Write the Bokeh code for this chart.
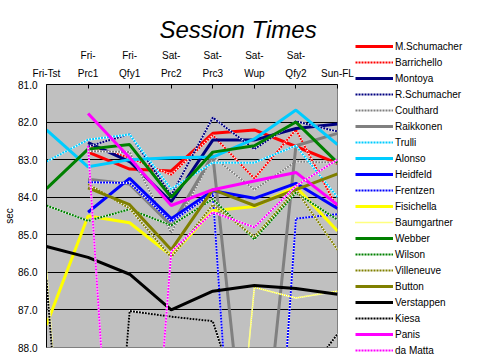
from bokeh.plotting import figure
from bokeh.models import (Range1d, FixedTicker, Legend, LegendItem,
                          NumeralTickFormatter)
from bokeh.embed import file_html
from bokeh.resources import INLINE

nan = float("nan")

# ---- data (lap times in seconds; values > 88 run off the chart) ----
sessions = ["Fri-Tst", "Fri-Prc1", "Fri-Qfy1", "Sat-Prc2",
            "Sat-Prc3", "Sat-Wup", "Sat-Qfy2", "Sun-FL"]
session_labels = ["Fri-Tst", "Fri-\nPrc1", "Fri-\nQfy1", "Sat-\nPrc2",
                  "Sat-\nPrc3", "Sat-\nWup", "Sat-\nQfy2", "Sun-FL"]
y_ticks = [81, 82, 83, 84, 85, 86, 87, 88]

m_schumacher = [nan, 82.80, 83.25, 83.30, 82.30, 82.21, 82.65, 83.10]
barrichello  = [nan, 82.63, 82.95, 83.40, 82.35, 83.50, 82.20, 84.30]
montoya      = [nan, 82.55, 83.05, 84.12, 82.48, 82.48, 82.17, 82.05]
r_schumacher = [nan, 82.65, 82.32, 83.95, 81.88, 82.72, 81.98, 82.25]
coulthard    = [nan, 82.77, 82.80, 84.95, 82.92, 83.80, 83.05, 83.08]
raikkonen    = [nan, 83.52, 83.65, 84.75, 82.88, 93.20, 82.63, 82.30]
trulli       = [83.05, 82.47, 82.33, 83.78, 83.08, 83.08, 82.63, 84.00]
alonso       = [82.21, 83.19, 83.00, 82.95, 82.93, 82.45, 81.68, 82.60]
heidfeld     = [nan, 84.40, 83.50, 84.57, 83.83, 84.03, 83.63, 84.30]
frentzen     = [nan, 83.60, 83.62, 84.65, 83.90, 100.5, 84.57, 84.45]
fisichella   = [87.40, 84.50, 84.68, 85.55, 84.36, 84.25, 83.72, 84.90]
baumgartner  = [85.95, 100.0, 100.0, 100.0, 98.0, 86.40, 86.68, 86.50]
webber       = [83.77, 82.72, 82.60, 84.00, 82.80, 82.63, 82.00, 83.08]
wilson       = [84.22, 84.63, 84.32, 84.75, 84.05, 85.12, 83.88, 84.60]
villeneuve   = [nan, 83.65, 84.30, 85.60, 84.20, 85.05, 83.80, 85.40]
button       = [nan, 83.75, 84.20, 85.40, 83.80, 84.22, 83.80, 83.38]
verstappen   = [85.31, 85.60, 86.05, 87.00, 86.50, 86.35, 86.43, 86.58]
kiesa        = [86.20, 100.5, 87.03, 87.18, 87.30, 90.70, 89.10, 87.64]
panis        = [nan, 81.77, 82.95, 84.22, 83.80, 83.57, 83.34, 84.20]
da_matta     = [nan, 82.63, 99.80, 85.45, 84.40, 84.80, 83.70, 83.00]

drivers = ["M.Schumacher", "Barrichello", "Montoya", "R.Schumacher", "Coulthard",
           "Raikkonen", "Trulli", "Alonso", "Heidfeld", "Frentzen", "Fisichella",
           "Baumgartner", "Webber", "Wilson", "Villeneuve", "Button", "Verstappen",
           "Kiesa", "Panis", "da Matta"]
series = [m_schumacher, barrichello, montoya, r_schumacher, coulthard,
          raikkonen, trulli, alonso, heidfeld, frentzen, fisichella,
          baumgartner, webber, wilson, villeneuve, button, verstappen,
          kiesa, panis, da_matta]

# ---- styles ----
colors = ["#FF0000", "#FF0000", "#000080", "#000080", "#808080",
          "#808080", "#00CCFF", "#00CCFF", "#0000FF", "#0000FF", "#FFFF00",
          "#FFFF00", "#008000", "#008000", "#808000", "#808000", "#000000",
          "#000000", "#FF00FF", "#FF00FF"]
dotted = [False, True, False, True, True, False, True, False, False, True, False,
          True, False, True, True, False, False, True, False, True]

FONT = "Liberation Sans"

p = figure(frame_width=291, frame_height=263, output_backend="svg",
           toolbar_location=None,
           x_range=Range1d(0, len(sessions) - 1), y_range=Range1d(88, 81),
           x_axis_location="above",
           min_border_left=46, min_border_right=134, min_border_top=84,
           min_border_bottom=10,
           background_fill_color="#C0C0C0", border_fill_color="white",
           outline_line_color="#808080")

p.title.text = "Session Times"
p.title.align = "left"
p.title.offset = 113
p.title.text_font = FONT
p.title.text_font_style = "italic"
p.title.text_font_size = "24px"
p.title.text_color = "black"
p.title.standoff = 7

x = list(range(len(sessions)))
items = []
for name, vals, c, d in zip(drivers, series, colors, dotted):
    if d:
        w = 1.5 if name == "Baumgartner" else 2
        dash = "1 1" if name == "Baumgartner" else "2 1"
        r1 = p.line(x, vals, line_color="white", line_width=w)
        r2 = p.line(x, vals, line_color=c, line_width=w, line_dash=dash)
        items.append(LegendItem(label=name, renderers=[r1, r2]))
    else:
        r = p.line(x, vals, line_color=c, line_width=3)
        items.append(LegendItem(label=name, renderers=[r]))

# x axis (top)
xa = p.xaxis[0]
xa.ticker = FixedTicker(ticks=x)
xa.major_label_overrides = {i: lab for i, lab in enumerate(session_labels)}
xa.major_tick_in = 4
xa.major_tick_out = 0
xa.minor_tick_line_color = None
xa.major_label_text_font = FONT
xa.major_label_text_font_size = "10px"
xa.major_label_text_color = "black"
xa.major_label_text_line_height = 1.6
xa.major_label_standoff = 6
xa.axis_line_color = "black"
xa.major_tick_line_color = "black"

# y axis
ya = p.yaxis[0]
ya.ticker = FixedTicker(ticks=y_ticks)
ya.formatter = NumeralTickFormatter(format="0.0")
ya.major_tick_in = 0
ya.major_tick_out = 0
ya.minor_tick_line_color = None
ya.major_label_text_font = FONT
ya.major_label_text_font_size = "10px"
ya.major_label_text_color = "black"
ya.major_label_standoff = 9
ya.axis_line_color = "black"
ya.axis_label = "sec"
ya.axis_label_standoff = 0
ya.axis_label_text_font = FONT
ya.axis_label_text_font_size = "10px"
ya.axis_label_text_font_style = "normal"
ya.axis_label_text_color = "black"

p.xgrid.visible = False
p.ygrid[0].ticker = FixedTicker(ticks=y_ticks[1:-1])
p.ygrid.grid_line_color = "black"
p.ygrid.grid_line_width = 1

legend = Legend(items=items, location=(18, -10), padding=0, margin=0, spacing=2,
                glyph_height=14, label_height=14, glyph_width=38, label_standoff=2,
                label_text_font=FONT, label_text_font_size="10px",
                label_text_color="black",
                background_fill_alpha=0, border_line_alpha=0)
p.add_layout(legend, "right")

open("out.html", "w").write(file_html(p, INLINE))
